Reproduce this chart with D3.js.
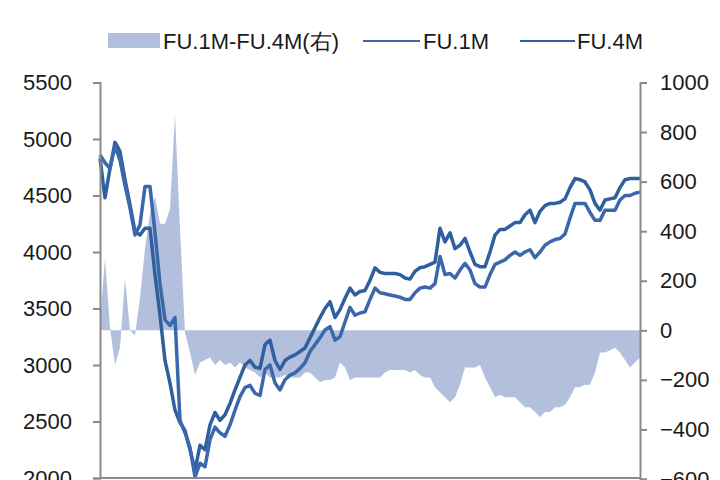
<!DOCTYPE html>
<html>
<head>
<meta charset="utf-8">
<script src="https://cdn.jsdelivr.net/npm/d3@7"></script>
<style>
  html, body { margin: 0; padding: 0; background: #fff; }
  svg { display: block; }
  text { font-family: "Liberation Sans", Arial, sans-serif; fill: #1a1a1a; }
</style>
</head>
<body>
<svg id="chart" width="720" height="480"></svg>
<script>
// ---- data ----
const seriesNames = ["FU.1M-FU.4M(右)", "FU.1M", "FU.4M"];
const leftTicks = [2000, 2500, 3000, 3500, 4000, 4500, 5000, 5500];
const rightTicks = [-600, -400, -200, 0, 200, 400, 600, 800, 1000];

const fu1M = [4860,4790,4740,4940,4810,4590,4390,4150,4240,4580,4580,4170,3720,3400,3350,3420,2510,2400,2270,2010,
  2130,2100,2340,2450,2400,2370,2470,2600,2720,2800,2820,2750,2730,2960,3000,2840,2780,2870,2910,2930,
  2970,3020,3120,3180,3240,3310,3340,3220,3250,3380,3510,3440,3460,3470,3580,3680,3640,3630,3620,3610,
  3600,3580,3580,3640,3680,3690,3680,3720,3960,3800,3810,3770,3840,3900,3840,3720,3690,3690,3800,3890,
  3910,3930,3970,4000,3970,4000,4020,3950,4000,4060,4090,4110,4120,4160,4300,4430,4430,4430,4350,4280,
  4280,4370,4370,4370,4460,4500,4500,4520,4530];

const fu4M = [4830,4480,4740,4970,4890,4640,4420,4180,4150,4210,4210,3800,3440,3040,2840,2600,2490,2420,2250,2070,
  2290,2250,2470,2580,2510,2560,2660,2780,2890,3000,3040,2980,2970,3180,3220,3040,2960,3040,3070,3090,
  3120,3150,3240,3330,3420,3500,3560,3420,3490,3590,3680,3620,3650,3660,3750,3860,3820,3810,3810,3810,
  3800,3770,3760,3830,3860,3870,3890,3910,4210,4090,4170,4030,4060,4120,4000,3890,3870,3870,4000,4150,
  4200,4200,4230,4260,4260,4330,4370,4260,4360,4410,4430,4430,4440,4470,4570,4650,4640,4620,4550,4430,
  4370,4460,4470,4480,4570,4640,4650,4650,4650];

const spread = [30,290,10,-140,-70,210,0,-20,130,330,470,540,430,430,490,870,410,-10,-90,-180,
  -130,-120,-110,-140,-120,-140,-130,-150,-130,-150,-160,-170,-190,-170,-190,-190,-190,-180,-190,-190,
  -190,-170,-170,-190,-210,-200,-200,-190,-130,-150,-200,-190,-190,-190,-190,-190,-190,-170,-160,-160,
  -160,-160,-170,-160,-180,-190,-190,-230,-250,-270,-290,-270,-220,-150,-150,-150,-140,-190,-230,-270,
  -260,-270,-270,-270,-290,-310,-310,-330,-350,-330,-330,-310,-310,-300,-270,-230,-230,-220,-220,-170,
  -90,-90,-80,-70,-90,-120,-150,-130,-110];

// ---- layout ----
const svg = d3.select("#chart");
const plotLeft = 100, plotRight = 640, plotTop = 82.5, plotBottom = 478;
const axisColor = "#8a8a8a";
const areaColor = "#b3c0dd";
const c1M = "#3a68aa";
const c4M = "#2f5f9f";

const x = d3.scaleLinear().domain([0, fu1M.length - 1]).range([plotLeft, plotRight]);
const yL = d3.scaleLinear().domain([2000, 5500]).range([plotBottom, plotTop]);
const yR = d3.scaleLinear().domain([-600, 1000]).range([479, plotTop]);

// spread area (right axis)
svg.append("path")
  .datum(spread)
  .attr("fill", areaColor)
  .attr("d", d3.area().x((d, i) => x(i)).y0(yR(0)).y1(d => yR(d)));

// lines (left axis)
const line = d3.line().x((d, i) => x(i)).y(d => yL(d));
svg.append("path").datum(fu4M).attr("fill", "none").attr("stroke", c4M)
  .attr("stroke-width", 3.5).attr("stroke-linejoin", "round").attr("d", line);
svg.append("path").datum(fu1M).attr("fill", "none").attr("stroke", c1M)
  .attr("stroke-width", 3.5).attr("stroke-linejoin", "round").attr("d", line);

// axes
const gL = svg.append("g").attr("transform", `translate(${plotLeft},0)`)
  .call(d3.axisLeft(yL).tickValues(leftTicks).tickSize(7).tickPadding(21).tickFormat(d3.format("d")));
const gR = svg.append("g").attr("transform", `translate(${plotRight},0)`)
  .call(d3.axisRight(yR).tickValues(rightTicks).tickSize(7).tickPadding(13).tickFormat(d3.format("d")));
[gL, gR].forEach(g => {
  g.select(".domain").attr("stroke", axisColor).attr("stroke-width", 2);
  g.selectAll(".tick line").attr("stroke", axisColor).attr("stroke-width", 2);
  g.selectAll(".tick text").attr("font-size", 22).attr("font-family", "Liberation Sans, Arial, sans-serif")
    .attr("fill", "#1a1a1a");
});
svg.append("line").attr("x1", plotLeft).attr("x2", plotRight).attr("y1", plotBottom).attr("y2", plotBottom)
  .attr("stroke", axisColor).attr("stroke-width", 2);

// legend
const lg = svg.append("g");
lg.append("rect").attr("x", 108).attr("y", 33).attr("width", 52).attr("height", 15).attr("fill", areaColor);
lg.append("text").attr("x", 163).attr("y", 41).attr("dy", "0.35em").attr("font-size", 22).text(seriesNames[0]);
lg.append("line").attr("x1", 363).attr("x2", 420).attr("y1", 41).attr("y2", 41).attr("stroke", c1M).attr("stroke-width", 2);
lg.append("text").attr("x", 423).attr("y", 41).attr("dy", "0.35em").attr("font-size", 22).text(seriesNames[1]);
lg.append("line").attr("x1", 520).attr("x2", 575).attr("y1", 41).attr("y2", 41).attr("stroke", c4M).attr("stroke-width", 2);
lg.append("text").attr("x", 577).attr("y", 41).attr("dy", "0.35em").attr("font-size", 22).text(seriesNames[2]);
</script>
</body>
</html>
